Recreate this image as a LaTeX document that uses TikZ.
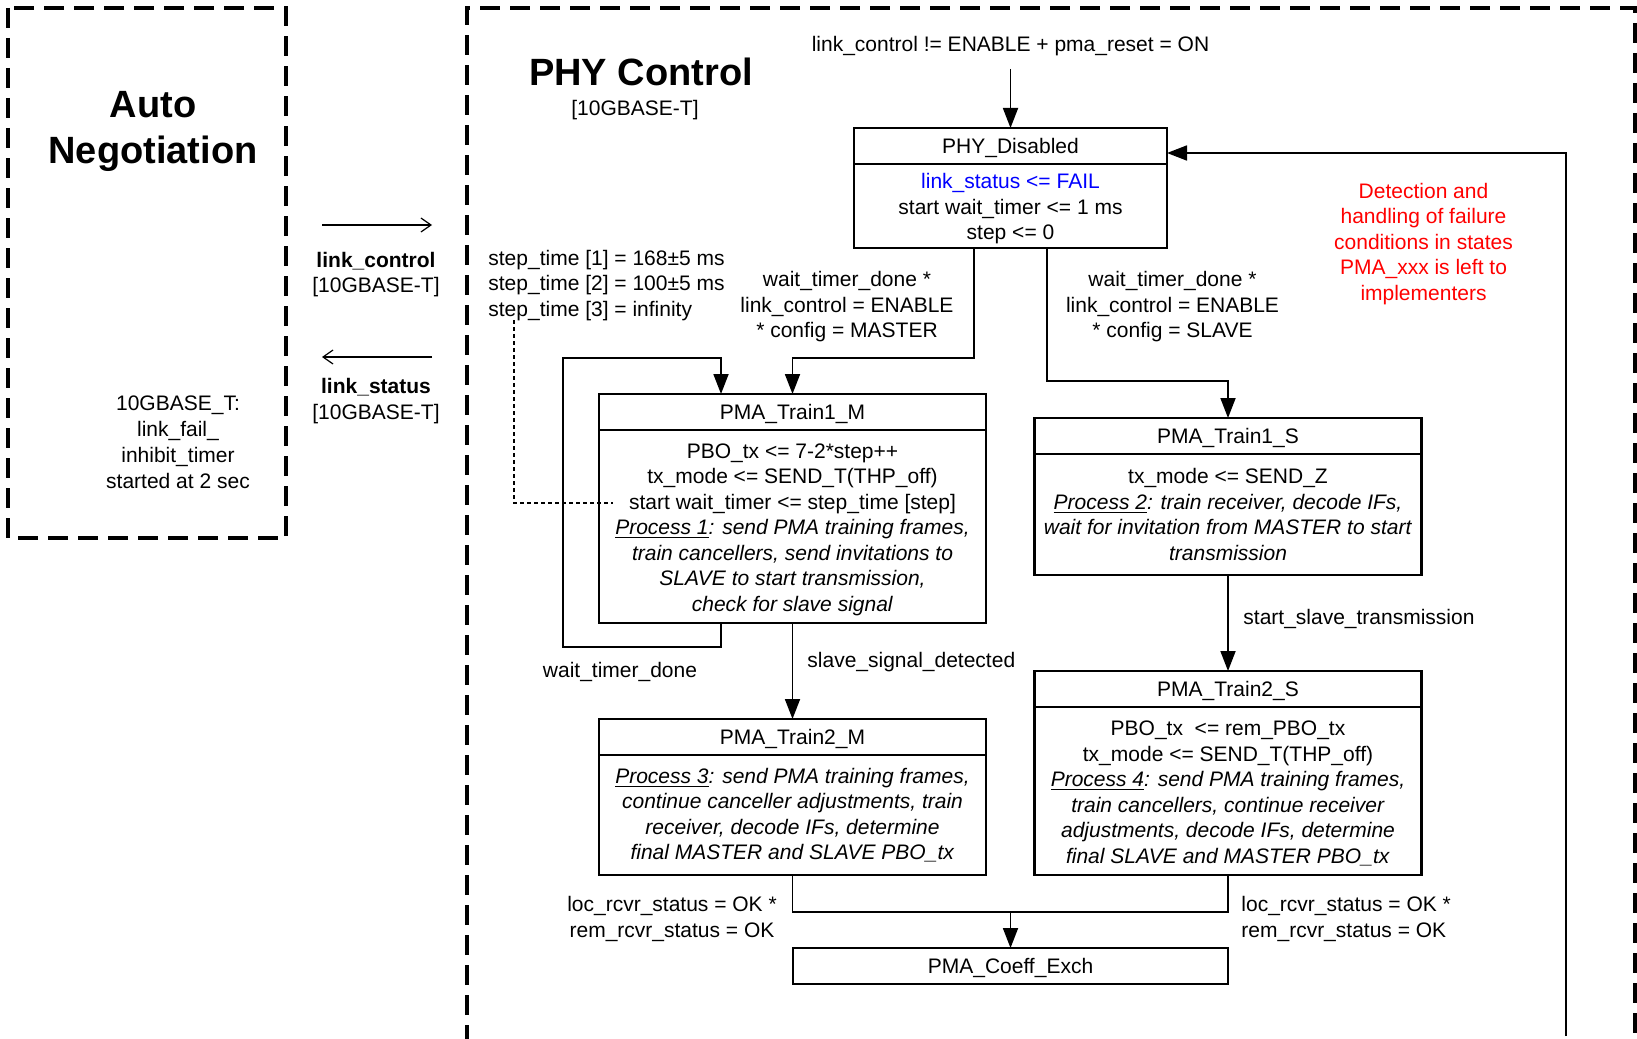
\documentclass[tikz,border=0pt]{standalone}
\usepackage{fontspec}
\setmainfont{Liberation Sans}
\usetikzlibrary{arrows.meta}
\newcommand{\topstrut}[1]{\rule{0pt}{#1}}
\begin{document}
\begin{tikzpicture}[x=0.5pt,y=-0.5pt,
  every node/.style={font=\fontsize{10.5}{12.75}\selectfont, inner sep=0pt},
  frame/.style={line width=2pt, dash pattern=on 10pt off 5pt},
  hdr/.style={draw, line width=1.1pt, outer sep=0pt, minimum height=18pt, text height=7.5pt, text depth=0pt},
  body/.style={draw, line width=1.1pt, outer sep=0pt, align=center, anchor=north},
  arr/.style={line width=0.9pt, -{Triangle[length=10pt,width=7.5pt]}},
  conn/.style={line width=0.9pt},
  dashline/.style={line width=0.6pt, dash pattern=on 2pt off 1.5pt},
  thinarr/.style={line width=0.6pt, -{Straight Barb[length=5pt,width=7pt]}},
  lbl/.style={align=center},
  ttl/.style={font=\fontsize{19}{23}\selectfont\bfseries, align=center}]

\useasboundingbox (0,0) rectangle (1637,1038);

% frames
\draw[frame] (8,8) rectangle (286,538);
\draw[frame] (467,1045) -- (467,8) -- (1635,8) -- (1635,1045);

% left panel
\node[ttl] (an) at (153,131) {Auto\\Negotiation};
\node[lbl, font=\fontsize{10.5}{13}\selectfont] (lfit) at (178,442) {10GBASE\_T:\\link\_fail\_\\inhibit\_timer\\started at 2 sec};

% interface arrows
\coordinate (lc1) at (322,225);
\coordinate (lc2) at (432,225);
\draw[thinarr] (lc1) -- (lc2);
\node[lbl] (lcl) at (376,274.5) {\textbf{link\_control}\\{}[10GBASE-T]};
\coordinate (ls1) at (432,357);
\coordinate (ls2) at (322,357);
\draw[thinarr] (ls1) -- (ls2);
\node[lbl] (lsl) at (376,401) {\textbf{link\_status}\\{}[10GBASE-T]};

% PHY control titles
\node[ttl, anchor=base] (pc) at (641,85.5) {PHY Control};
\node[anchor=base] (pcs) at (635,115.5) {[10GBASE-T]};

\node[anchor=base] (toplbl) at (1010.5,52) {link\_control != ENABLE + pma\_reset = ON};

% states
\node[hdr, minimum width=156.5pt] (pdh) at (1010.5,146) {PHY\_Disabled};
\node[body, minimum width=156.5pt, minimum height=42pt] (pdb) at (pdh.south)
  {\topstrut{10.2pt}\textcolor{blue}{link\_status <= FAIL}\\start wait\_timer <= 1 ms\\step <= 0};

\node[hdr, minimum width=193.5pt] (t1mh) at (792.5,412) {PMA\_Train1\_M};
\node[body, minimum width=193.5pt, minimum height=96.5pt] (t1mb) at (t1mh.south)
  {\topstrut{10.3pt}PBO\_tx <= 7-2*step++\\
   tx\_mode <= SEND\_T(THP\_off)\\
   start wait\_timer <= step\_time [step]\\
   \textit{\underline{Process 1}: send PMA training frames,}\\
   \textit{train cancellers, send invitations to}\\
   \textit{SLAVE to start transmission,}\\
   \textit{check for slave signal}};

\node[hdr, minimum width=193.5pt] (t1sh) at (1228,436) {PMA\_Train1\_S};
\node[body, minimum width=193.5pt, minimum height=60.5pt] (t1sb) at (t1sh.south)
  {tx\_mode <= SEND\_Z\\
   \textit{\underline{Process 2}: train receiver, decode IFs,}\\
   \textit{wait for invitation from MASTER to start}\\
   \textit{transmission}};

\node[hdr, minimum width=193.5pt] (t2mh) at (792.5,737) {PMA\_Train2\_M};
\node[body, minimum width=193.5pt, minimum height=60pt] (t2mb) at (t2mh.south)
  {\textit{\underline{Process 3}: send PMA training frames,}\\
   \textit{continue canceller adjustments, train}\\
   \textit{receiver, decode IFs, determine}\\
   \textit{final MASTER and SLAVE PBO\_tx}};

\node[hdr, minimum width=193.5pt] (t2sh) at (1228,689) {PMA\_Train2\_S};
\node[body, minimum width=193.5pt, minimum height=84pt] (t2sb) at (t2sh.south)
  {\topstrut{9.7pt}PBO\_tx~ <= rem\_PBO\_tx\\
   tx\_mode <= SEND\_T(THP\_off)\\
   \textit{\underline{Process 4}: send PMA training frames,}\\
   \textit{train cancellers, continue receiver}\\
   \textit{adjustments, decode IFs, determine}\\
   \textit{final SLAVE and MASTER PBO\_tx}};

\node[hdr, minimum width=217.5pt] (ce) at (1010.5,966) {PMA\_Coeff\_Exch};

% labels
\node[align=left, anchor=west] (stl) at (488,285.5)
  {step\_time [1] = 168±5 ms\\step\_time [2] = 100±5 ms\\step\_time [3] = infinity};
\node[lbl] (tml) at (847,307) {wait\_timer\_done *\\link\_control = ENABLE\\* config = MASTER};
\node[lbl] (tsl) at (1172.5,307) {wait\_timer\_done *\\link\_control = ENABLE\\* config = SLAVE};
\node[lbl, text=red] (note) at (1423.5,244) {Detection and\\handling of failure\\conditions in states\\PMA\_xxx is left to\\implementers};
\node[anchor=base] (wtd) at (620,677) {wait\_timer\_done};
\node[anchor=base west] (ssd) at (807,667.5) {slave\_signal\_detected};
\node[anchor=base west] (sst) at (1243,624) {start\_slave\_transmission};
\node[lbl] (lrl) at (672,919) {loc\_rcvr\_status = OK *\\rem\_rcvr\_status = OK};
\node[align=left, anchor=west] (lrr) at (1241,919) {loc\_rcvr\_status = OK *\\rem\_rcvr\_status = OK};

% connectors
\coordinate (tin) at (1010.5,69);
\draw[arr] (tin) -- (pdh.north);
\draw[arr] ([xshift=-18.25pt]pdb.south) -- ++(0,110) -| (t1mh.north);
\draw[arr] ([xshift=18.25pt]pdb.south) -- ++(0,133) -| (t1sh.north);
\coordinate (lpw) at (563,358);
\draw[arr] ([xshift=-35.75pt]t1mb.south) -- ++(0,24) -| (lpw) -| ([xshift=-35.75pt]t1mh.north);
\coordinate (st3) at (514,320);
\coordinate (dsh) at (613,503);
\draw[dashline] (st3) |- (dsh);
\draw[arr] (t1mb.south) -- (t2mh.north);
\draw[arr] (t1sb.south) -- (t2sh.north);
\coordinate (mg) at (1010.5,912);
\draw[conn] (t2mb.south) |- (t2sb.south |- mg) -- (t2sb.south);
\draw[arr] (mg) -- (ce.north);
\coordinate (fb) at (1566,1036);
\draw[arr] (fb) |- ([yshift=-3.5pt]pdh.east);
\end{tikzpicture}
\end{document}
